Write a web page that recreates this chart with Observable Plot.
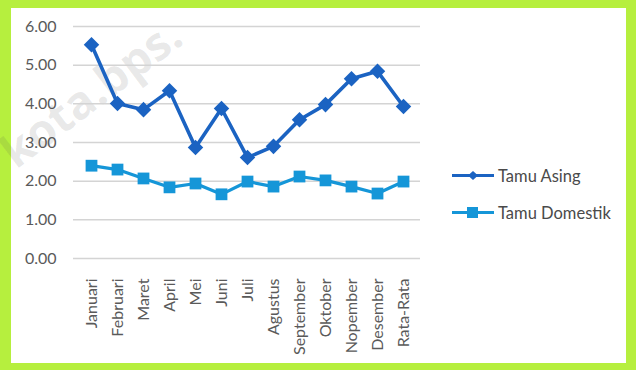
<!DOCTYPE html>
<html>
<head>
<meta charset="utf-8">
<script src="https://cdn.jsdelivr.net/npm/d3@7"></script>
<script src="https://cdn.jsdelivr.net/npm/@observablehq/plot@0.6"></script>
<style>
  html, body { margin: 0; padding: 0; }
  body { width: 636px; height: 370px; background: #b6ef3e; position: relative; overflow: hidden; font-family: Lato, "Open Sans", sans-serif; }
  #panel { position: absolute; left: 11px; top: 8px; width: 615px; height: 355px; background: #ffffff; }
  #chart { position: absolute; left: 0; top: 0; }
  #wm { position: absolute; left: 0; top: 0; pointer-events: none; }
  #legend { position: absolute; left: 452px; top: 157px; font-size: 16.5px; color: #4a4a4a; }
  .item { display: flex; align-items: center; height: 37px; }
  .item svg { margin-right: 4px; }
</style>
</head>
<body>
<div id="panel"></div>
<svg id="wm" width="636" height="370">
  <text x="16" y="170" transform="rotate(-37 16 170)" font-family="'Open Sans', sans-serif" font-weight="bold" font-size="46" fill="rgba(80,80,80,0.13)">kota.bps.</text>
</svg>
<div id="chart"></div>
<div id="legend"></div>
<script>
const months = ["Januari","Februari","Maret","April","Mei","Juni","Juli","Agustus","September","Oktober","Nopember","Desember","Rata-Rata"];
const tamuAsing = [5.53, 4.01, 3.85, 4.34, 2.87, 3.88, 2.61, 2.90, 3.59, 3.98, 4.65, 4.84, 3.93];
const tamuDomestik = [2.40, 2.30, 2.07, 1.84, 1.94, 1.66, 1.99, 1.86, 2.12, 2.02, 1.86, 1.68, 1.99];
const yTicks = [0, 1, 2, 3, 4, 5, 6];
const seriesNames = ["Tamu Asing", "Tamu Domestik"];
const seriesColors = ["#1b63c2", "#1596d8"];

const rows = [];
months.forEach((m, i) => {
  rows.push({month: m, value: tamuAsing[i], series: seriesNames[0]});
  rows.push({month: m, value: tamuDomestik[i], series: seriesNames[1]});
});
const asing = rows.filter(d => d.series === seriesNames[0]);
const dom = rows.filter(d => d.series === seriesNames[1]);

const chart = Plot.plot({
  width: 636,
  height: 370,
  marginLeft: 73,
  marginRight: 216,
  marginTop: 26,
  marginBottom: 112,
  style: {background: "transparent", fontFamily: "Lato, 'Open Sans', sans-serif", fontSize: "16px", color: "#595959"},
  x: {type: "point", domain: months, padding: 0.5, label: null},
  y: {domain: [0, 6], ticks: yTicks, label: null},
  marks: [
    Plot.gridY(yTicks, {stroke: "#d4d4d4", strokeOpacity: 1, strokeWidth: 1.5}),
    Plot.axisY(yTicks, {tickSize: 0, tickPadding: 17, tickFormat: d => d.toFixed(2), fontSize: 16, fill: "#5a5a5a"}),
    Plot.axisX({tickSize: 0, tickPadding: 20, tickRotate: -90, fontSize: 16, fill: "#5a5a5a"}),
    Plot.line(dom, {x: "month", y: "value", stroke: seriesColors[1], strokeWidth: 3.2}),
    Plot.dot(dom, {x: "month", y: "value", symbol: "square2", r: 7.5, fill: seriesColors[1], stroke: null}),
    Plot.line(asing, {x: "month", y: "value", stroke: seriesColors[0], strokeWidth: 3.6}),
    Plot.dot(asing, {x: "month", y: "value", symbol: "diamond2", r: 7, fill: seriesColors[0], stroke: null})
  ]
});
document.getElementById("chart").appendChild(chart);

const legend = document.getElementById("legend");
seriesNames.forEach((name, i) => {
  const item = document.createElement("div");
  item.className = "item";
  const marker = i === 0
    ? `<polygon points="21,2 26,6.5 21,11 16,6.5" fill="${seriesColors[i]}"/>`
    : `<rect x="15" y="1" width="11" height="11" fill="${seriesColors[i]}"/>`;
  item.innerHTML = `<svg width="42" height="13"><line x1="0" y1="6.5" x2="42" y2="6.5" stroke="${seriesColors[i]}" stroke-width="3"/>${marker}</svg><span>${name}</span>`;
  legend.appendChild(item);
});
</script>
</body>
</html>
